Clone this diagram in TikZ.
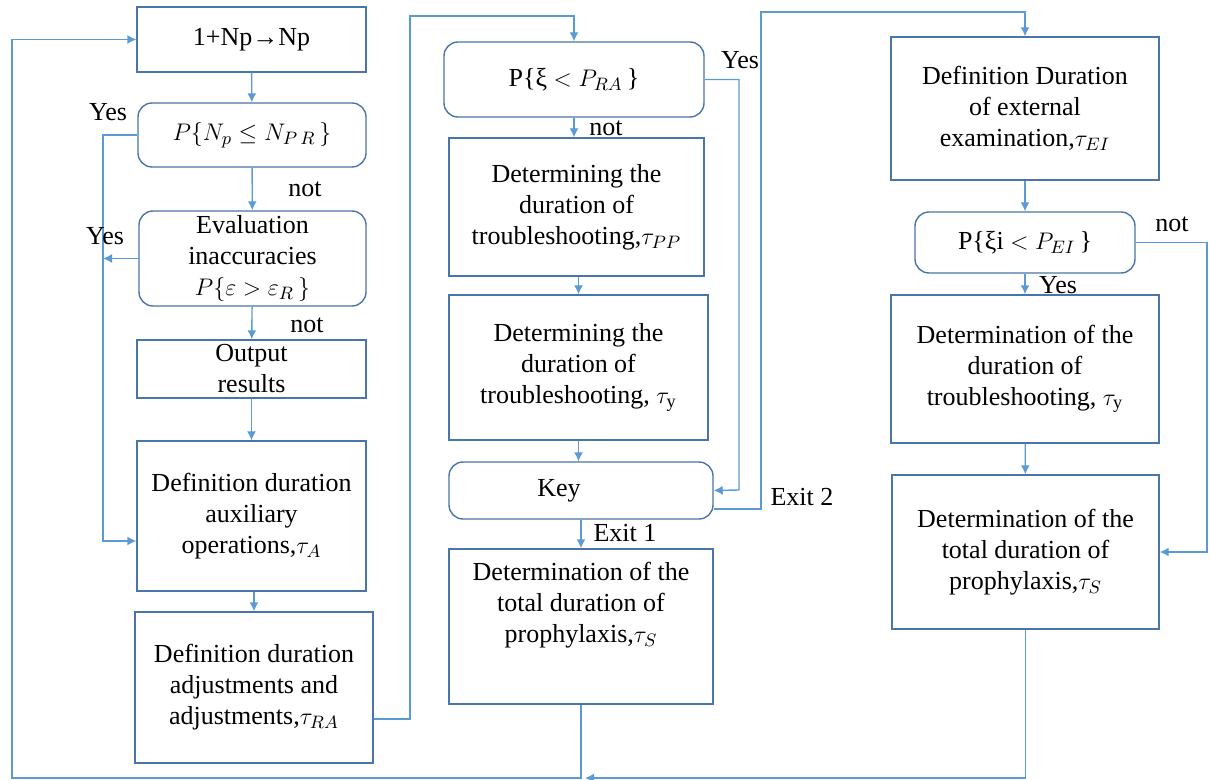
\documentclass[tikz,border=0pt]{standalone}
\usepackage{fontspec}
\setmainfont{Liberation Serif}
\usetikzlibrary{arrows.meta}
\definecolor{boxblue}{RGB}{74,117,168}
\definecolor{lineblue}{RGB}{91,155,213}
\begin{document}
\begin{tikzpicture}[x=0.5pt,y=-0.5pt,
  >={Latex[length=4.5pt,width=4.5pt]},
  every node/.append style={font=\fontsize{13}{15.5}\selectfont},
  every path/.append style={line width=0.7pt}]
  \tikzstyle{block} = [draw=boxblue,align=center,inner sep=2pt]
  \tikzstyle{test} = [block,rounded corners=7pt]
  \tikzstyle{word} = [inner sep=0pt]
  \tikzstyle{link} = [draw=lineblue,->]
  \useasboundingbox (0,0) rectangle (1210,780);
  \node (1_1) [block,minimum width=114.5pt,minimum height=32.5pt] at (251.5,39.5) {1+Np→Np};
  \node (1_2) [test,minimum width=114pt,minimum height=32pt] at (252,135) {$P\{N_p \le N_{P\,R}\,\}$};
  \node (1_3) [test,minimum width=113.5pt,minimum height=47.5pt] at (252.5,258.5) {Evaluation\\ inaccuracies\\ $P\{\varepsilon > \varepsilon_R\,\}$};
  \node (1_4) [block,minimum width=114.5pt,minimum height=29pt] at (251.5,369) {Output\\ results};
  \node (1_5) [block,minimum width=114.5pt,minimum height=75pt] at (251.5,516) {Definition duration\\ auxiliary\\ operations,$\tau_A$};
  \node (1_6) [block,minimum width=119pt,minimum height=75.5pt] at (254,687.5) {Definition duration\\ adjustments and\\ adjustments,$\tau_{RA}$};
  \node (2_1) [test,minimum width=130pt,minimum height=37.5pt] at (574,79.5) {P\{ξ $< P_{RA}\,$\}};
  \node (2_2) [block,minimum width=127.5pt,minimum height=69pt] at (576.5,207) {Determining the\\ duration of\\ troubleshooting,$\tau_{PP}$};
  \node (2_3) [block,minimum width=129.5pt,minimum height=72.5pt] at (578.5,367.5) {Determining the\\ duration of\\ troubleshooting, $\tau_{\mathrm{y}}$};
  \node (2_4) [test,minimum width=132pt,minimum height=28.5pt] at (581,490.5) {Key\hspace*{22pt}};
  \node (2_5) [block,minimum width=132pt,minimum height=77.5pt] at (581,626.5) {Determination of the\\ total duration of\\ prophylaxis,$\tau_S$\\[9pt]\mbox{}};
  \node (3_1) [block,minimum width=134pt,minimum height=71.5pt] at (1025,108.5) {Definition Duration\\ of external\\ examination,$\tau_{EI}$};
  \node (3_2) [test,minimum width=110pt,minimum height=30.5pt] at (1025,242.5) {P\{ξi $< P_{EI}\,$\}};
  \node (3_3) [block,minimum width=134pt,minimum height=74pt] at (1025,369) {Determination of the\\ duration of\\ troubleshooting, $\tau_{\mathrm{y}}$};
  \node (3_4) [block,minimum width=133.5pt,minimum height=77pt] at (1025.5,552) {Determination of the\\ total duration of\\ prophylaxis,$\tau_S$};
  \coordinate (a_1) at (103,541);
  \coordinate (a_2) at (739,490);
  \coordinate (a_3) at (1207,552);
  \coordinate (a_4) at (585,778);
  \coordinate (a_5) at (12,778);
  \draw[link] (1_1) -- (1_2);
  \draw[link] (1_2) -- (1_3);
  \draw[link] (1_3) -- (1_4);
  \draw[link] (1_4) -- (1_5);
  \draw[link] (1_5.south -| 1_6) -- (1_6);
  \draw[link] (1_2.west) -| (a_1) -- (a_1 -| 1_5.west);
  \draw[link] (1_3.west) -- (1_3.west -| a_1);
  \draw[link] ([yshift=-15.75pt]1_6.east) -| (410,16) -| (2_1.north);
  \draw[link] (2_1.south) -- (2_1.south |- 2_2.north);
  \draw[link] (2_2.south -| 2_3) -- (2_3);
  \draw[link] (2_3.south) -- (2_3.south |- 2_4.north);
  \draw[link] (2_4) -- (2_5);
  \draw[link] (2_1.east) -| (a_2) -- (2_4.east);
  \draw[link] ([yshift=-9.25pt]2_4.east) -| (761,12) -| (3_1.north);
  \draw[link] (3_1) -- (3_2);
  \draw[link] (3_2) -- (3_3);
  \draw[link] (3_3) -- (3_4);
  \draw[link] (3_2.east) -| (a_3) -- (3_4.east);
  \draw[link] (3_4.south) |- (a_4);
  \draw[link] (2_5.south) |- (a_5) |- (1_1.west);
  \node (y_1) [word] at (108,112) {Yes};
  \node (n_1) [word] at (305,189) {not};
  \node (y_2) [word] at (105,236) {Yes};
  \node (n_2) [word] at (307,325) {not};
  \node (y_3) [word] at (740,60) {Yes};
  \node (n_3) [word] at (606,128) {not};
  \node (e_1) [word] at (625,533) {Exit 1};
  \node (e_2) [word] at (802,497) {Exit 2};
  \node (n_4) [word] at (1172,224) {not};
  \node (y_4) [word] at (1058,285) {Yes};
\end{tikzpicture}
\end{document}
